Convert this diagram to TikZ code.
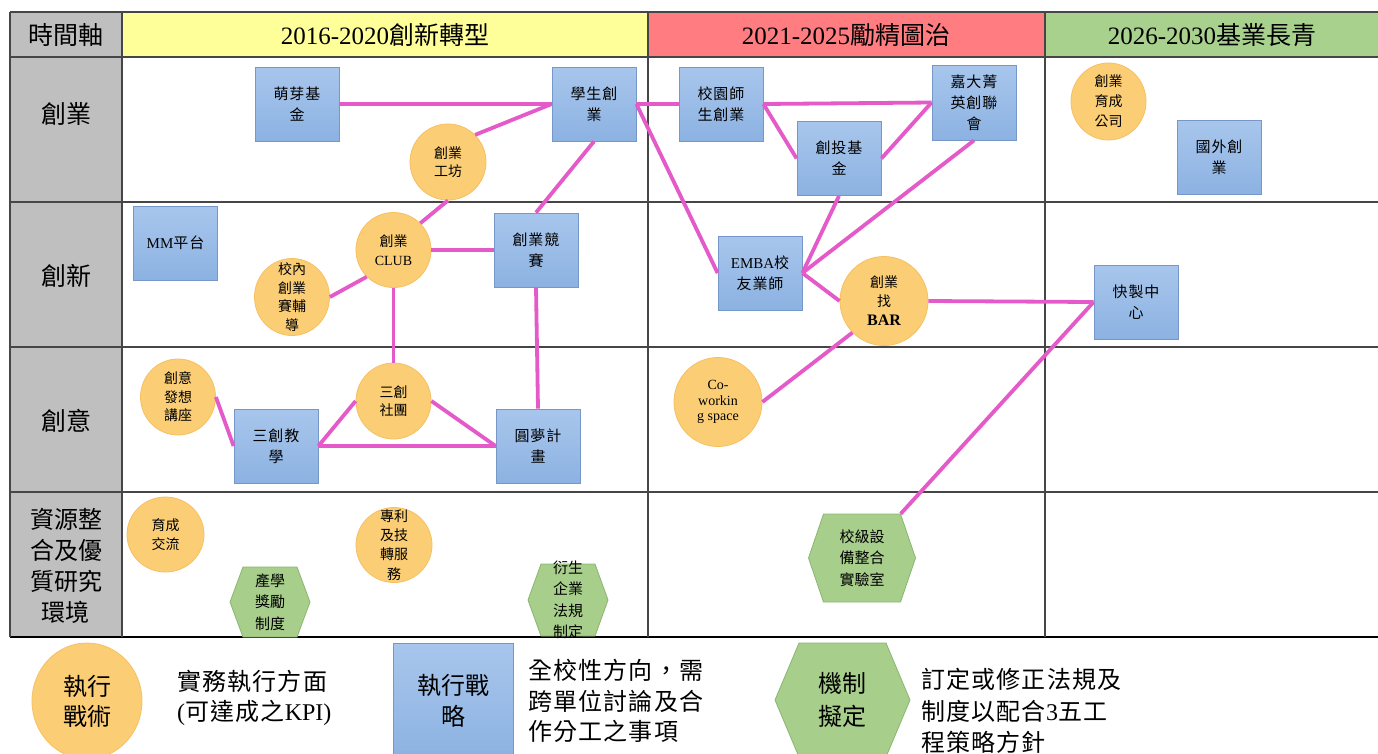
\documentclass[tikz,border=0pt]{standalone}
\usepackage{fontspec}
\setmainfont{Noto Sans CJK TC}
\newfontfamily\lat{Liberation Serif}
\usetikzlibrary{shapes.geometric}
\definecolor{graylab}{RGB}{191,191,191}
\definecolor{yelh}{RGB}{255,255,153}
\definecolor{redh}{RGB}{255,124,128}
\definecolor{greh}{RGB}{169,209,142}
\definecolor{boxtop}{RGB}{168,198,236}
\definecolor{boxbot}{RGB}{140,178,226}
\definecolor{boxline}{RGB}{118,152,200}
\definecolor{orfill}{RGB}{251,206,118}
\definecolor{orline}{RGB}{246,192,96}
\definecolor{hexc}{RGB}{168,206,140}
\definecolor{hexline}{RGB}{138,182,112}
\definecolor{linkc}{RGB}{228,90,200}
\definecolor{gridc}{RGB}{70,70,70}
\tikzset{
  gridline/.style={draw=gridc, line width=1.2pt},
  bbox/.style={rectangle, draw=boxline, line width=0.8pt, top color=boxtop, bottom color=boxbot,
    minimum width=84pt, minimum height=74pt, align=center, inner sep=1pt,
    font=\fontsize{15}{21}\selectfont\addfontfeature{LetterSpace=6}},
  orb/.style={ellipse, draw=orline, line width=0.8pt, fill=orfill, minimum width=76pt,
    minimum height=76pt, inner sep=0pt},
  lbl/.style={align=center, inner sep=0pt, font=\fontsize{14}{18.5}\selectfont},
  hexfill/.style={fill=hexc, draw=hexline, line width=0.8pt},
  hextext/.style={rectangle, align=center, inner sep=0pt, font=\fontsize{15}{21.5}\selectfont},
  headtxt/.style={font=\fontsize{25}{30}\selectfont, inner sep=0pt},
  rowlab/.style={font=\fontsize{25}{31}\selectfont, align=center, inner sep=0pt},
  lgtext/.style={font=\fontsize{24}{30.5}\selectfont\addfontfeature{LetterSpace=5}, align=left, inner sep=0pt},
  link/.style={draw=linkc, line width=3.8pt},
}
\newcommand\hexnode[8]{%
  \path[hexfill] (#2-#4,#3-#6) -- (#2+#4,#3-#6) -- (#2+#4+#5,#3) -- (#2+#4,#3+#6)
     -- (#2-#4,#3+#6) -- (#2-#4-#5,#3) -- cycle;
  \node[hextext, minimum width=2*#4pt, minimum height=2*#6pt, #7] (#1) at (#2,#3) {#8};
}
\begin{document}
\begin{tikzpicture}[x=1pt,y=-1pt]
\useasboundingbox (0,0) rectangle (1378,753);
\clip (0,0) rectangle (1378,753);
\fill[white] (0,0) rectangle (1378,753);
% table
\fill[graylab] (10,12) rectangle (122,637);
\fill[yelh] (122,12) rectangle (648,57);
\fill[redh] (648,12) rectangle (1045,57);
\fill[greh] (1045,12) rectangle (1378,57);
\foreach \yy in {12,57,202,347,492} \draw[gridline] (10,\yy) -- (1378,\yy);
\draw[draw=black, line width=1.8pt] (10,637) -- (1378,637);
\foreach \xx in {10,122,648,1045} \draw[gridline] (\xx,12) -- (\xx,637);
% header and row labels
\node[headtxt] (hlab) at (66,35) {時間軸};
\node[headtxt] (h1) at (385,35) {{\lat 2016-2020}創新轉型};
\node[headtxt] (h2) at (846,35) {{\lat 2021-2025}勵精圖治};
\node[headtxt] (h3) at (1212,35) {{\lat 2026-2030}基業長青};
\node[rowlab] (r1) at (66,114) {創業};
\node[rowlab] (r2) at (66,276) {創新};
\node[rowlab] (r3) at (66,421) {創意};
\node[rowlab, font=\fontsize{24}{31}\selectfont] (r4) at (66,566) {資源整\\合及優\\質研究\\環境};
% blue boxes
\node[bbox] (mengya) at (297,104) {萌芽基\\金};
\node[bbox] (xuesheng) at (594,104) {學生創\\業};
\node[bbox] (xiaoyuan) at (721,104) {校園師\\生創業};
\node[bbox, minimum height=75pt] (jiada) at (974,102.5) {嘉大菁\\英創聯\\會};
\node[bbox] (chuangtou) at (839,158.5) {創投基\\金};
\node[bbox] (guowai) at (1219,157) {國外創\\業};
\node[bbox] (mm) at (175.5,243) {{\lat MM}平台};
\node[bbox] (jingsai) at (536,250) {創業競\\賽};
\node[bbox] (emba) at (760,273) {{\lat EMBA}校\\友業師};
\node[bbox] (kuaizhi) at (1136,302) {快製中\\心};
\node[bbox] (jiaoxue) at (276,446) {三創教\\學};
\node[bbox] (yuanmeng) at (538,446) {圓夢計\\畫};
% orange circles
\node[orb, label={[lbl]center:創業\\工坊}] (gongfang) at (448,162) {};
\node[orb, minimum width=75pt, minimum height=75pt, label={[lbl]center:創業\\{\lat CLUB}}] (club) at (393.5,250) {};
\node[orb, minimum width=75pt, minimum height=77pt, label={[lbl]center:校內\\創業\\賽輔\\導}] (xiaonei) at (292,297) {};
\node[orb, minimum width=75pt, label={[lbl]center:創意\\發想\\講座}] (jiangzuo) at (178,397) {};
\node[orb, minimum width=75pt, label={[lbl]center:三創\\社團}] (shetuan) at (393.5,401) {};
\node[orb, minimum width=88pt, minimum height=89pt, label={[lbl, font=\fontsize{14}{19}\selectfont]center:創業\\找\\{\lat\bfseries\fontsize{16}{19}\selectfont BAR}}] (bar) at (884,301) {};
\node[orb, minimum width=88pt, minimum height=89pt, label={[lbl, font=\lat\fontsize{14}{15.5}\selectfont]center:Co-\\workin\\g space}] (cowork) at (718,402) {};
\node[orb, minimum width=75pt, minimum height=77pt, label={[lbl, font=\fontsize{14}{20}\selectfont]center:創業\\育成\\公司}] (gongsi) at (1108.5,101.5) {};
\node[orb, minimum width=77pt, minimum height=75pt, label={[lbl]center:育成\\交流}] (jiaoliu) at (165.5,534.5) {};
\node[orb, minimum height=75pt, label={[lbl, font=\fontsize{14}{19.3}\selectfont]center:專利\\及技\\轉服\\務}] (zhuanli) at (394,545) {};
% green hexagons
\hexnode{chanxue}{270}{602}{27}{13}{35}{}{產學\\獎勵\\制度}
\hexnode{yansheng}{568}{600}{27}{13}{36}{}{衍生\\企業\\法規\\制定}
\hexnode{shebei}{862}{558}{38.5}{15}{44}{}{校級設\\備整合\\實驗室}
% connectors
\draw[link] (mengya.east) -- (xuesheng.west);
\draw[link] (gongfang.45) -- (xuesheng.west);
\draw[link] (xuesheng.south) -- (jingsai.north);
\draw[link] (xuesheng.east) -- (xiaoyuan.west);
\draw[link] (xuesheng.east) -- (emba.west);
\draw[link] (xiaoyuan.east) -- (jiada.west);
\draw[link] (xiaoyuan.east) -- (chuangtou.west);
\draw[link] (chuangtou.east) -- (jiada.west);
\draw[link] (chuangtou.south) -- (emba.east);
\draw[link] (jiada.south) -- (emba.east);
\draw[link] (emba.east) -- (bar.west);
\draw[link] (bar.east) -- (kuaizhi.west);
\draw[link] (kuaizhi.west) -- (shebei.north east);
\draw[link] (bar.225) -- (cowork.east);
\draw[link] (gongfang.south) -- (club.45);
\draw[link] (club.east) -- (jingsai.west);
\draw[link] (xiaonei.east) -- (club.225);
\draw[link] (club.south) -- (shetuan.north);
\draw[link] (jingsai.south) -- (yuanmeng.north);
\draw[link] (jiangzuo.east) -- (jiaoxue.west);
\draw[link] (jiaoxue.east) -- (shetuan.west);
\draw[link] (shetuan.east) -- (yuanmeng.west);
\draw[link] (jiaoxue.east) -- (yuanmeng.west);
% legend
\node[orb, minimum width=110pt, minimum height=116pt,
  label={[lbl, font=\fontsize{24}{30}\selectfont]center:執行\\戰術}] (lgo) at (87,701) {};
\node[lgtext, anchor=west] (lgotxt) at (177,698) {實務執行方面\\{\lat (}可達成之{\lat KPI)}};
\node[bbox, minimum width=120pt, minimum height=116pt, font=\fontsize{24}{31}\selectfont] (lgb) at (453,701) {執行戰\\略};
\node[lgtext, anchor=west] (lgbtxt) at (528,701) {全校性方向，需\\跨單位討論及合\\作分工之事項};
\hexnode{lgh}{842.5}{700}{43.5}{24}{57}{font=\fontsize{24}{33}\selectfont}{機制\\擬定}
\node[lgtext, anchor=west, font=\fontsize{24}{31.5}\selectfont\addfontfeature{LetterSpace=5}] (lghtxt) at (921,711) {訂定或修正法規及\\制度以配合{\lat 3}五工\\程策略方針};
\end{tikzpicture}
\end{document}
